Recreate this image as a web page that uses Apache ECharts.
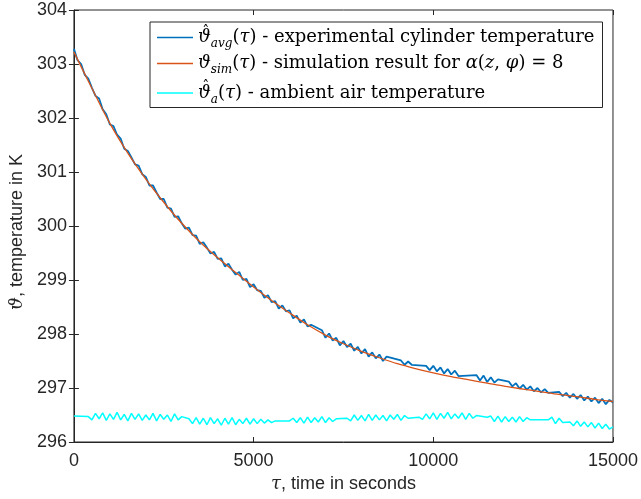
<!DOCTYPE html>
<html>
<head>
<meta charset="utf-8">
<script src="https://cdn.jsdelivr.net/npm/echarts@6/dist/echarts.min.js"></script>
<style>
html,body{margin:0;padding:0;background:#fff;}
#chart{width:641px;height:499px;}
</style>
</head>
<body>
<div id="chart"></div>
<script>
// time grid in seconds (measured samples)
const timeSec = [0,100,200,300,400,500,600,700,800,900,
1000,1100,1200,1300,1400,1500,1600,1700,1800,1900,
2000,2100,2200,2300,2400,2500,2600,2700,2800,2900,
3000,3100,3200,3300,3400,3500,3600,3700,3800,3900,
4000,4100,4200,4300,4400,4500,4600,4700,4800,4900,
5000,5100,5200,5300,5400,5500,5600,5700,5800,5900,
6000,6100,6200,6300,6400,6500,6600,6700,6800,6900,
7000,7100,7200,7300,7400,7500,7600,7700,7800,7900,
8000,8100,8200,8300,8400,8500,8600,8700,8800,8900,
9000,9100,9200,9300,9400,9500,9600,9700,9800,9900,
10000,10100,10200,10300,10400,10500,10600,10700,10800,10900,
11000,11100,11200,11300,11400,11500,11600,11700,11800,11900,
12000,12100,12200,12300,12400,12500,12600,12700,12800,12900,
13000,13100,13200,13300,13400,13500,13600,13700,13800,13900,
14000,14100,14200,14300,14400,14500,14600,14700,14800,14900,
15000];

// experimental average cylinder temperature (null = no sample, bridged by a straight line)
const expTemp = [303.28,303.07,303.00,302.80,302.73,302.56,302.41,302.36,302.16,302.07,
301.88,301.85,301.69,301.62,301.43,301.39,301.27,301.14,301.12,300.96,
300.91,300.75,300.75,300.62,300.50,300.50,300.34,300.32,300.17,300.18,
300.05,299.95,299.97,299.83,299.82,299.67,299.70,299.60,299.49,299.52,
299.39,299.40,299.25,299.30,299.19,299.10,299.15,299.00,299.02,298.87,
298.92,298.81,298.80,298.67,298.72,298.59,298.61,298.47,298.53,298.42,
298.44,298.29,298.34,298.21,298.27,298.14,298.17,null,null,298.07,
297.93,298.01,297.88,297.93,297.79,297.87,297.76,297.82,297.69,297.76,
297.64,297.72,297.58,297.66,297.55,297.62,297.50,297.58,null,null,
null,297.51,297.43,297.49,297.43,null,null,null,297.41,297.33,
297.41,297.31,297.38,297.27,297.35,297.25,297.32,297.22,null,null,
null,null,297.24,297.14,297.23,297.11,297.20,297.10,297.16,null,
null,297.12,297.03,297.09,296.99,297.06,296.97,297.03,296.94,297.00,
296.92,296.98,296.91,null,null,296.93,296.85,296.91,296.82,296.89,
296.80,296.87,296.77,296.84,296.75,296.82,296.72,296.80,296.70,296.78,
296.73];

// ambient air temperature
const ambTemp = [296.48,null,null,null,296.47,296.41,296.53,296.43,296.54,296.40,
296.52,296.42,296.55,296.41,296.51,296.39,296.53,296.42,296.52,296.40,
296.50,296.41,296.53,296.39,296.51,296.42,296.50,296.38,296.52,296.41,
296.47,null,296.43,296.34,296.45,296.33,296.44,296.32,296.45,296.34,
296.43,296.31,296.44,296.33,296.45,296.32,296.42,296.34,296.44,296.33,
296.43,296.34,296.42,296.35,296.41,296.36,296.39,null,null,null,
296.39,296.44,296.36,296.45,296.35,296.46,296.36,296.45,296.37,296.47,
296.36,296.45,296.38,296.43,null,null,296.44,296.39,296.50,296.40,
296.49,296.39,296.51,296.40,296.50,296.41,296.49,296.39,296.50,296.42,
296.51,296.40,296.49,296.44,null,null,296.46,296.42,296.52,296.43,
296.54,296.42,296.53,296.44,296.55,296.43,296.52,296.44,296.54,296.42,
296.53,296.44,296.49,null,null,296.46,296.48,296.38,296.48,296.37,
296.47,296.38,296.46,296.37,296.47,296.38,296.45,296.41,null,null,
null,null,296.41,296.46,296.34,296.44,296.36,null,296.37,296.30,
296.39,296.29,296.37,296.28,296.36,296.26,296.35,296.25,296.33,296.24,
296.28];

// simulation result
const simTime = [0,500,1000,1500,2000,2500,3000,3500,4000,4500,5000,5500,6000,6500,7000,7500,
8000,8500,9000,9500,10000,10500,11000,11500,12000,12500,13000,13500,14000,14500,15000];
const simTemp = [303.22,302.55,301.90,301.35,300.87,300.44,300.05,299.71,299.41,299.14,298.87,298.62,298.39,298.17,297.98,297.82,
297.68,297.56,297.45,297.36,297.28,297.21,297.15,297.09,297.03,296.98,296.93,296.88,296.84,296.79,296.75];

const seriesNames = ['exp','sim','amb'];
const legendLabels = {
  exp: '{h|\u2009\u200Aˆ}{m|ϑ}{s|avg}{n|(}{m|τ}{n|) - experimental cylinder temperature}',
  sim: '{m|ϑ}{s|sim}{n|(}{m|τ}{n|) - simulation result for }{m|α}{n|(}{m|z}{n|, }{m|φ}{n|) = 8}',
  amb: '{h|\u2009\u200Aˆ}{m|ϑ}{s|a}{n|(}{m|τ}{n|) - ambient air temperature}'
};

const axisColor = '#262626';
const sansFont = '"Liberation Sans", Arial, Helvetica, sans-serif';
const serifFont = '"DejaVu Serif", "Liberation Serif", serif';
const lineIcon = 'path://M0,0H36V1.4H0Z';

const chart = echarts.init(document.getElementById('chart'), null, {renderer: 'canvas'});
const pair = (xs, ys) => xs.map((x, i) => [x, ys[i]]);

const nameRich = {
  g: {fontFamily: serifFont, fontSize: 18, fontStyle: 'italic', color: axisColor},
  r: {fontFamily: sansFont, fontSize: 18, color: axisColor}
};

const option = {
  animation: false,
  backgroundColor: '#fff',
  grid: {left: 67, right: 26, top: 10, bottom: 57, show: true, borderColor: axisColor, borderWidth: 1, backgroundColor: 'transparent'},
  xAxis: [{
    type: 'value', min: 0, max: 15000, interval: 5000,
    name: '{g|τ}{r|, time in seconds}', nameLocation: 'middle', nameGap: 32,
    nameTextStyle: {color: axisColor, fontSize: 18, fontFamily: sansFont, rich: nameRich},
    axisLine: {lineStyle: {color: axisColor, width: 1}},
    axisTick: {inside: true, length: 5, lineStyle: {color: axisColor}},
    axisLabel: {color: axisColor, fontSize: 18, fontFamily: sansFont, margin: 10, formatter: v => String(v)},
    splitLine: {show: false}
  }, {
    type: 'value', min: 0, max: 15000, interval: 5000, position: 'top',
    axisLine: {show: false},
    axisTick: {inside: true, length: 5, lineStyle: {color: axisColor}},
    axisLabel: {show: false}, splitLine: {show: false}
  }],
  yAxis: [{
    type: 'value', min: 296, max: 304, interval: 1,
    name: '{g|ϑ}{r|, temperature in K}', nameLocation: 'middle', nameGap: 40,
    nameTextStyle: {color: axisColor, fontSize: 18, fontFamily: sansFont, padding: [0, 12, 0, 0], rich: nameRich},
    axisLine: {show: true, lineStyle: {color: axisColor, width: 1}},
    axisTick: {show: true, inside: true, length: 5, lineStyle: {color: axisColor}},
    axisLabel: {color: axisColor, fontSize: 18, fontFamily: sansFont, margin: 7},
    splitLine: {show: false}
  }, {
    type: 'value', min: 296, max: 304, interval: 1, position: 'right',
    axisLine: {show: false},
    axisTick: {show: true, inside: true, length: 5, lineStyle: {color: axisColor}},
    axisLabel: {show: false}, splitLine: {show: false}
  }],
  legend: {
    orient: 'vertical', left: 150, top: 22,
    backgroundColor: '#fff', borderColor: axisColor, borderWidth: 1, borderRadius: 0,
    padding: [3, 8, 2, 7],
    itemWidth: 36, itemHeight: 20, itemGap: 4.5,
    icon: lineIcon,
    data: seriesNames,
    formatter: name => legendLabels[name],
    textStyle: {
      color: '#000',
      rich: {
        n: {fontFamily: serifFont, fontSize: 18, lineHeight: 29, color: '#000'},
        m: {fontFamily: serifFont, fontSize: 18, lineHeight: 29, fontStyle: 'italic', color: '#000'},
        h: {fontFamily: serifFont, fontSize: 14, color: '#000', width: 0, align: 'left', verticalAlign: 'top', padding: [2, 0, 0, 0]},
        s: {fontFamily: serifFont, fontSize: 12, fontStyle: 'italic', color: '#000', verticalAlign: 'bottom', padding: [8, 0, 2, 0]}
      }
    }
  },
  series: [{
    name: 'exp', type: 'line',
    data: pair(timeSec, expTemp), connectNulls: true, showSymbol: false, symbol: 'none',
    lineStyle: {color: '#0072BD', width: 1.8}, itemStyle: {color: '#0072BD'}, z: 2
  }, {
    name: 'sim', type: 'line',
    data: pair(simTime, simTemp), smooth: 0.3, showSymbol: false, symbol: 'none',
    lineStyle: {color: '#D95319', width: 1.3}, itemStyle: {color: '#D95319'}, z: 3
  }, {
    name: 'amb', type: 'line',
    data: pair(timeSec, ambTemp), connectNulls: true, showSymbol: false, symbol: 'none',
    lineStyle: {color: '#00FFFF', width: 1.5}, itemStyle: {color: '#00FFFF'}, z: 4
  }]
};
chart.setOption(option);
</script>
</body>
</html>
